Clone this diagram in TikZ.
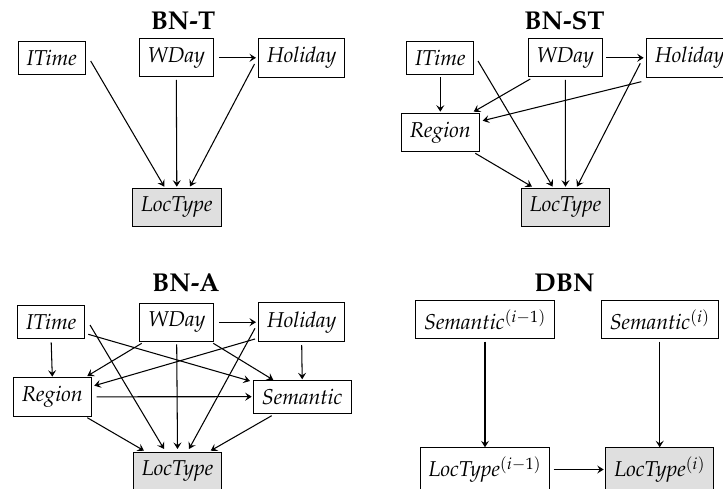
\documentclass[tikz,border=0pt]{standalone}
\usepackage[T1]{fontenc}
\usepackage{mathpazo}
\usetikzlibrary{arrows.meta,calc}

\tikzset{
  var/.style={draw, line width=1pt, inner sep=8.6pt,
    font=\fontsize{21.5}{26}\selectfont\itshape},
  target/.style={var, fill=gray!25},
  paneltitle/.style={anchor=base, inner sep=0pt,
    font=\fontsize{25.8}{30}\selectfont\bfseries},
  edge/.style={line width=1.05pt,
    -{Stealth[length=6.5pt,width=8pt,inset=2.6pt]}}
}

\begin{document}
\begin{tikzpicture}[x=1pt, y=-1pt]
\useasboundingbox (0,0) rectangle (723,489);

% ---------------- BN-T ----------------
\node[paneltitle] (tT) at (183,29.5) {BN-T};
\node[var] (tI) at (51.7,57.8) {ITime};
\node[var] (tW) at (176.3,57.8) {WDay};
\node[var] (tH) at (301.7,57.8) {Holiday};
\node[target] (tL) at (176.8,207.5) {LocType};

\draw[edge] ($(tI)+(39,3.2)$) -- ($(tL)+(-12.5,-20.8)$);
\draw[edge] ($(tW)+(0,22.2)$) -- ($(tL)+(0,-20.8)$);
\draw[edge] ($(tW)+(42.7,0)$) -- ($(tH)+(-45.7,0)$);
\draw[edge] ($(tH)+(-47.2,6.2)$) -- ($(tL)+(13.2,-21)$);

% ---------------- BN-ST ----------------
\node[paneltitle] (sT) at (564.5,29.5) {BN-ST};
\node[var] (sI) at (440.3,57.8) {ITime};
\node[var] (sW) at (565.3,57.8) {WDay};
\node[var] (sH) at (689.7,57.8) {Holiday};
\node[var] (sR) at (440.3,132.5) {Region};
\node[target] (sL) at (565.5,207.5) {LocType};

\draw[edge] ($(sI)+(0,19.5)$) -- ($(sR)+(0,-20.8)$);
\draw[edge] ($(sI)+(37.7,3.2)$) -- ($(sL)+(-12.8,-20.8)$);
\draw[edge] ($(sW)+(-35,21.2)$) -- ($(sR)+(33.4,-20.8)$);
\draw[edge] ($(sW)+(0,22.2)$) -- ($(sL)+(0,-20.8)$);
\draw[edge] ($(sW)+(41,0)$) -- ($(sH)+(-46,0)$);
\draw[edge] ($(sH)+(-48.4,23.9)$) -- ($(sR)+(42.4,-11.8)$);
\draw[edge] ($(sH)+(-49.4,5.5)$) -- ($(sL)+(11.5,-20.8)$);
\draw[edge] ($(sR)+(35,20.8)$) -- ($(sL)+(-33.5,-20.8)$);

% ---------------- BN-A ----------------
\node[paneltitle] (aT) at (185.8,291.7) {BN-A};
\node[var] (aI) at (51.2,321.7) {ITime};
\node[var] (aW) at (176.7,322.2) {WDay};
\node[var] (aH) at (301.7,322.2) {Holiday};
\node[var] (aR) at (52.3,396.8) {Region};
\node[var] (aS) at (302.2,396.7) {Semantic};
\node[target] (aL) at (177.5,471.5) {LocType};

\draw[edge] ($(aI)+(0,20.6)$) -- ($(aR)+(0,-20.1)$);
\draw[edge] ($(aI)+(38.8,3.3)$) -- ($(aL)+(-13.5,-22.5)$);
\draw[edge] ($(aI)+(37.1,12.6)$) -- ($(aS)+(-52.2,-15.7)$);
\draw[edge] ($(aW)+(-35,21.1)$) -- ($(aR)+(35,-20.8)$);
\draw[edge] ($(aW)+(0,22.1)$) -- ($(aL)+(0,-22.5)$);
\draw[edge] ($(aW)+(36.6,21.1)$) -- ($(aS)+(-28.9,-16.7)$);
\draw[edge] ($(aW)+(42.3,0)$) -- ($(aH)+(-45.7,0)$);
\draw[edge] ($(aH)+(-46.7,16.8)$) -- ($(aR)+(42,-11.1)$);
\draw[edge] ($(aH)+(-46.7,6.1)$) -- ($(aL)+(11.5,-22.5)$);
\draw[edge] ($(aH)+(0,22.8)$) -- ($(aS)+(0,-17.4)$);
\draw[edge] ($(aR)+(44.4,0)$) -- ($(aS)+(-50.5,0)$);
\draw[edge] ($(aR)+(35,20.9)$) -- ($(aL)+(-33.5,-20.8)$);
\draw[edge] ($(aS)+(-30.5,19)$) -- ($(aL)+(33.2,-20.8)$);

% ---------------- DBN ----------------
\node[paneltitle] (dT) at (564.5,291.7) {DBN};
\node[var] (dS1) at (485,319.7) {Semantic$^{(i-1)}$};
\node[var] (dS2) at (659.7,319.7) {Semantic$^{(i)}$};
\node[var] (dL1) at (485,469.5) {LocType$^{(i-1)}$};
\node[target] (dL2) at (659.7,469.5) {LocType$^{(i)}$};

\draw[edge] ($(dS1)+(0,22)$) -- ($(dL1)+(0,-22.2)$);
\draw[edge] ($(dS2)+(0,22)$) -- ($(dL2)+(0,-22.2)$);
\draw[edge] ($(dL1)+(68.7,0)$) -- ($(dL2)+(-56,0)$);
\end{tikzpicture}
\end{document}
